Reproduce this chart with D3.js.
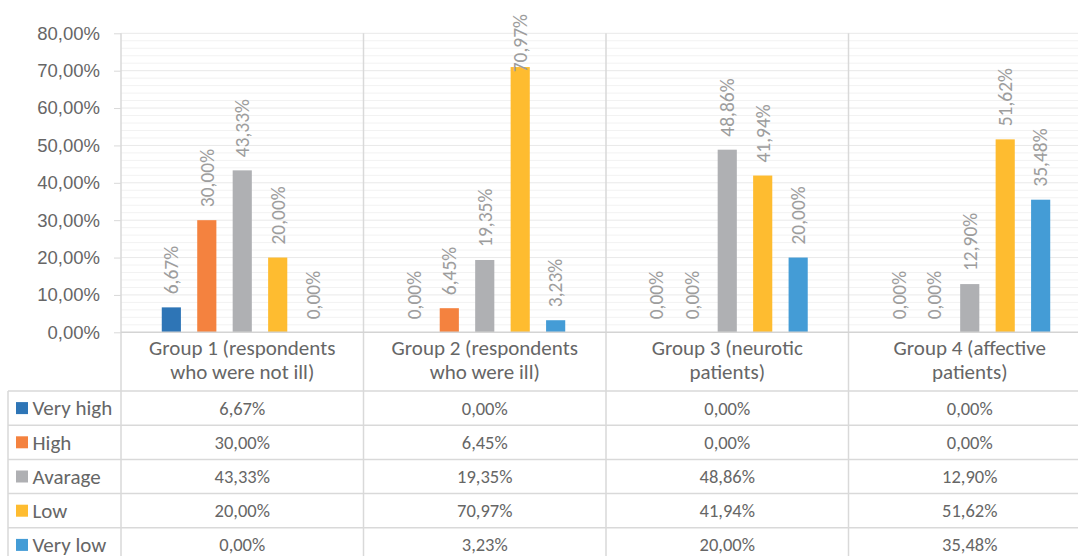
<!DOCTYPE html>
<html>
<head>
<meta charset="utf-8">
<script src="https://cdn.jsdelivr.net/npm/d3@7"></script>
<style>
  body { margin: 0; background: #fff; }
  svg { display: block; font-family: Carlito, Calibri, Lato, sans-serif; }
</style>
</head>
<body>
<div id="chart"></div>
<script>
// data
const groupLines = [
  ["Group 1 (respondents", "who were not ill)"],
  ["Group 2 (respondents", "who were ill)"],
  ["Group 3 (neurotic", "patients)"],
  ["Group 4 (affective", "patients)"],
];
const levels = ["Very high", "High", "Avarage", "Low", "Very low"];
const veryHigh = [6.67, 0.0, 0.0, 0.0];
const high = [30.0, 6.45, 0.0, 0.0];
const avarage = [43.33, 19.35, 48.86, 12.9];
const low = [20.0, 70.97, 41.94, 51.62];
const veryLow = [0.0, 3.23, 20.0, 35.48];
const yTicks = [0, 10, 20, 30, 40, 50, 60, 70, 80];

const series = [veryHigh, high, avarage, low, veryLow];
const colors = ["#2e75b6", "#f4823f", "#afb0b3", "#febc30", "#449cd6"];

const width = 1078;
const height = 556;
const plotLeft = 121;
const plotRight = 1091; // runs past the picture edge, like the original
const plotTop = 33.3;
const plotBottom = 332.3;
const tableTop = 391;
const rowH = 34.2;
const tableLeft = 8;
const numSize = 18.5; // numbers
const wordSize = 21; // words

const locale = d3.formatLocale({
  decimal: ",",
  thousands: ".",
  grouping: [3],
  currency: ["", "€"],
});
const fmt = (v) => locale.format(".2f")(v) + "%";

const groups = groupLines.map((d) => d.join(" "));

const svg = d3
  .select("#chart")
  .append("svg")
  .attr("width", width)
  .attr("height", height);

const x0 = d3.scaleBand().domain(groups).range([plotLeft, plotRight]);
const x1 = d3
  .scaleBand()
  .domain(levels)
  .range([0, x0.bandwidth()])
  .paddingInner(0.46)
  .paddingOuter(1.15);
const y = d3.scaleLinear().domain([0, 80]).range([plotBottom, plotTop]);

// minor gridlines
svg
  .append("g")
  .selectAll("line")
  .data(d3.range(0, 81, 2).filter((v) => v % 10 !== 0))
  .join("line")
  .attr("x1", plotLeft)
  .attr("x2", plotRight)
  .attr("y1", (d) => y(d))
  .attr("y2", (d) => y(d))
  .attr("stroke", "#f2f2f2")
  .attr("stroke-width", 1);

// major gridlines
svg
  .append("g")
  .selectAll("line")
  .data(yTicks.slice(1))
  .join("line")
  .attr("x1", plotLeft)
  .attr("x2", plotRight)
  .attr("y1", (d) => y(d))
  .attr("y2", (d) => y(d))
  .attr("stroke", "#e9e9e9")
  .attr("stroke-width", 1);

// y axis
const yAxis = svg
  .append("g")
  .attr("transform", `translate(${plotLeft},0)`)
  .call(
    d3
      .axisLeft(y)
      .tickValues(yTicks)
      .tickSize(7)
      .tickPadding(14)
      .tickFormat(fmt),
  );
yAxis.select(".domain").remove();
yAxis.selectAll(".tick line").attr("stroke", "#d9d9d9");
yAxis
  .selectAll(".tick text")
  .attr("fill", "#666")
  .attr("font-size", numSize)
  .attr("font-family", null);

// vertical category separators, through the table
const bounds = groups.map((g) => x0(g)).concat([plotRight]);
svg
  .append("g")
  .selectAll("line")
  .data(bounds)
  .join("line")
  .attr("x1", (d) => d)
  .attr("x2", (d) => d)
  .attr("y1", plotTop)
  .attr("y2", height)
  .attr("stroke", "#d9d9d9")
  .attr("stroke-width", 1.5);

// bars
const barGroups = svg
  .append("g")
  .selectAll("g")
  .data(groups)
  .join("g")
  .attr("transform", (g) => `translate(${x0(g)},0)`);

const cellData = (g, gi) =>
  levels.map((l, li) => ({ level: l, li, value: series[li][gi] }));

barGroups
  .selectAll("rect")
  .data(cellData)
  .join("rect")
  .attr("x", (d) => x1(d.level))
  .attr("width", x1.bandwidth())
  .attr("y", (d) => y(d.value))
  .attr("height", (d) => plotBottom - y(d.value))
  .attr("fill", (d) => colors[d.li]);

// data labels, rotated; pushed down when they would leave the chart
barGroups
  .selectAll("text")
  .data(cellData)
  .join("text")
  .attr("dy", "0.35em")
  .attr("fill", "#9d9d9d")
  .attr("font-size", 19.5)
  .text((d) => fmt(d.value))
  .attr("transform", function (d) {
    const len = this.getComputedTextLength();
    const start = Math.max(y(d.value) - 13, 14 + len);
    return `translate(${x1(d.level) + x1.bandwidth() / 2},${start}) rotate(-90)`;
  });

// category axis line
svg
  .append("line")
  .attr("x1", plotLeft)
  .attr("x2", plotRight)
  .attr("y1", plotBottom)
  .attr("y2", plotBottom)
  .attr("stroke", "#d4d4d4")
  .attr("stroke-width", 1.5);

// category labels
const catLabels = svg
  .append("g")
  .selectAll("text")
  .data(groupLines)
  .join("text")
  .attr("x", (d, i) => x0(groups[i]) + x0.bandwidth() / 2)
  .attr("y", 355)
  .attr("text-anchor", "middle")
  .attr("fill", "#666")
  .attr("font-size", wordSize);
catLabels
  .selectAll("tspan")
  .data((d) => d)
  .join("tspan")
  .attr("x", function () {
    return d3.select(this.parentNode).attr("x");
  })
  .attr("dy", (d, i) => (i === 0 ? 0 : 24))
  .text((d) => d);

// data table rows
const rows = d3.range(levels.length + 1).map((i) => tableTop + i * rowH);
svg
  .append("g")
  .selectAll("line")
  .data(rows)
  .join("line")
  .attr("x1", tableLeft)
  .attr("x2", plotRight)
  .attr("y1", (d) => d)
  .attr("y2", (d) => d)
  .attr("stroke", "#d9d9d9")
  .attr("stroke-width", 1.5);

svg
  .append("line")
  .attr("x1", tableLeft)
  .attr("x2", tableLeft)
  .attr("y1", tableTop)
  .attr("y2", height)
  .attr("stroke", "#d9d9d9")
  .attr("stroke-width", 1.5);

const rowG = svg
  .append("g")
  .selectAll("g")
  .data(levels)
  .join("g")
  .attr("transform", (d, i) => `translate(0,${tableTop + i * rowH + rowH / 2})`);

rowG
  .append("rect")
  .attr("x", 16)
  .attr("y", -6)
  .attr("width", 12)
  .attr("height", 12)
  .attr("fill", (d, i) => colors[i]);

rowG
  .append("text")
  .attr("x", 32.5)
  .attr("dy", "0.35em")
  .attr("fill", "#666")
  .attr("font-size", wordSize)
  .text((d) => d);

rowG
  .selectAll("text.cell")
  .data((d, li) => series[li].map((v, gi) => ({ v, gi })))
  .join("text")
  .attr("class", "cell")
  .attr("x", (d) => x0(groups[d.gi]) + x0.bandwidth() / 2)
  .attr("dy", "0.35em")
  .attr("text-anchor", "middle")
  .attr("fill", "#666")
  .attr("font-size", numSize)
  .text((d) => fmt(d.v));
</script>
</body>
</html>
